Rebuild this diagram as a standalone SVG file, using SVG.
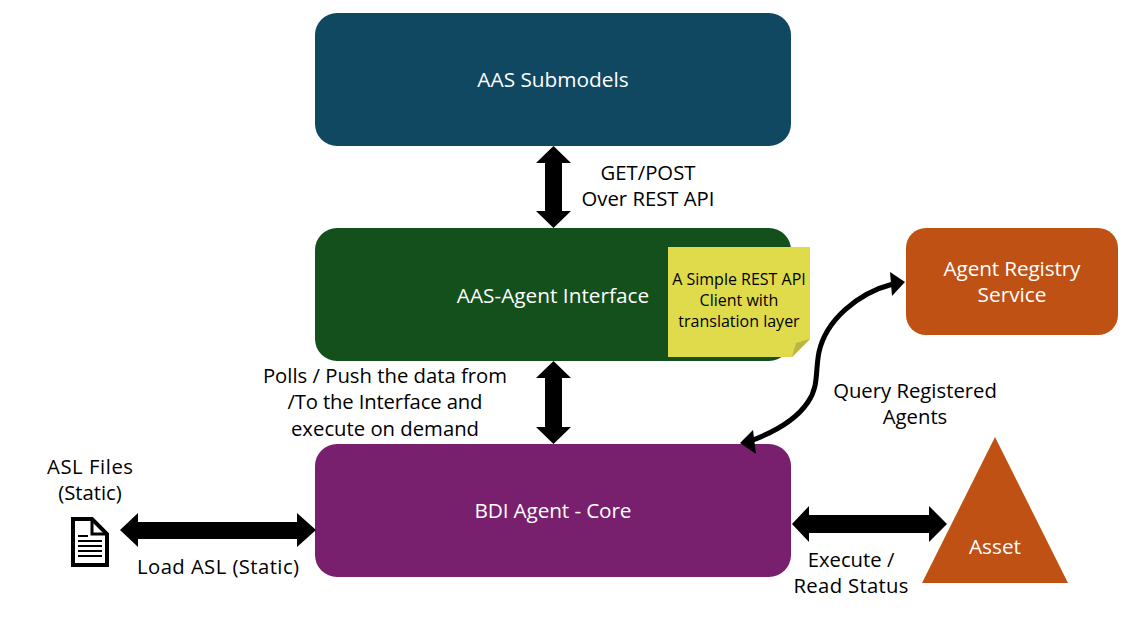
<svg xmlns="http://www.w3.org/2000/svg" width="1133" height="625" viewBox="0 0 1133 625">
<style>
text{font-family:"Open Sans","Noto Sans","Liberation Sans",sans-serif;font-size:20.3px;text-anchor:middle;fill:#000}
.w{fill:#fff;font-size:20.8px}
.n{font-size:16px}
</style>
<rect width="1133" height="625" fill="#fff"/>
<g id="aas-submodels"><rect x="315" y="13" width="476" height="133" rx="22" fill="#104862"/><text class="w" x="553" y="87">AAS Submodels</text></g>
<g id="aas-agent-interface"><rect x="315" y="228" width="476" height="133" rx="22" fill="#14501b"/><text class="w" x="553" y="303">AAS-Agent Interface</text></g>
<g id="note"><polygon points="668,247 810,247 810,339 792,357 668,357" fill="#dfdb4a"/><polygon points="810,339 792,357 796,343" fill="#b8b445"/>
<text class="n" x="739" y="285">A Simple REST API</text><text class="n" x="739" y="306">Client with</text><text class="n" x="739" y="327">translation layer</text></g>
<g id="bdi-agent-core"><rect x="315" y="444" width="476" height="133" rx="22" fill="#78206e"/><text class="w" x="553" y="518" textLength="157">BDI Agent - Core</text></g>
<g id="agent-registry"><rect x="906" y="228" width="212" height="107" rx="20" fill="#c05114"/><text class="w" x="1012" y="276" textLength="137">Agent Registry</text><text class="w" x="1012" y="302">Service</text></g>
<g id="asset"><polygon points="995,437 1068,583 922,583" fill="#c05114"/><text class="w" x="995" y="554">Asset</text></g>
<g id="asl-files">
<path d="M73,519H92L107,534V565H73Z" fill="#fff" stroke="#000" stroke-width="4"/>
<path d="M92,519V534H107" fill="none" stroke="#000" stroke-width="3"/>
<path d="M78,536H88M78,541H102M78,546H102M78,551H102M78,556H102" stroke="#000" stroke-width="2" fill="none"/>
<text x="90" y="474" textLength="86">ASL Files</text><text x="90" y="500">(Static)</text>
</g>
<g id="labels">
<text x="648" y="180">GET/POST</text><text x="648" y="206">Over REST API</text>
<text x="385" y="383">Polls / Push the data from</text><text x="385" y="409" textLength="195">/To the Interface and</text><text x="385" y="436">execute on demand</text>
<text x="915" y="398">Query Registered</text><text x="915" y="424">Agents</text>
<text x="218" y="574" textLength="162">Load ASL (Static)</text>
<text x="851" y="567">Execute /</text><text x="851" y="593" textLength="115">Read Status</text>
</g>
<g id="connectors">
<polygon points="553.500,146 571,163 562,163 562,211 571,211 553.500,228 536,211 545,211 545,163 536,163"/>
<polygon points="553.500,361 571,378 562,378 562,427 571,427 553.500,444 536,427 545,427 545,378 536,378"/>
<polygon points="120,530 138,513 138,522 297,522 297,513 316,530 297,547 297,539 138,539 138,547"/>
<polygon points="792,524 809,506 809,515 929,515 929,506 947,524 929,542 929,533 809,533 809,542"/>
<path d="M893,284C858,293 826,320 819,352C815,372 819,386 808,402C796,420 775,432 750,441" fill="none" stroke="#000" stroke-width="5"/>
<polygon points="905,282 890,272 892,296"/>
<polygon points="740,443 753,430 756,454"/>
</g>
</svg>
